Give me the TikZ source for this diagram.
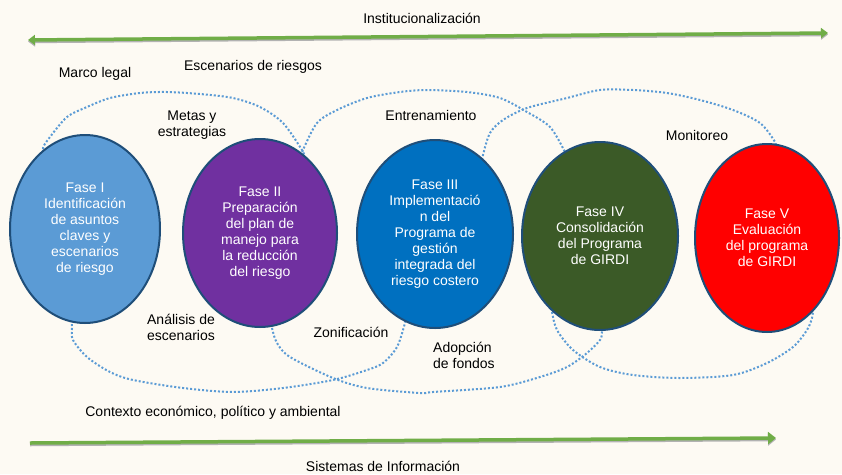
\documentclass[tikz,border=0pt]{standalone}
\usepackage{fontspec}
\setmainfont{Liberation Sans}
\usetikzlibrary{shapes.geometric,arrows.meta}
\definecolor{fondo}{HTML}{FDFAF3}
\definecolor{punteado}{HTML}{5B9BD5}
\definecolor{borde}{HTML}{1F4E79}
\definecolor{verde}{HTML}{70AD47}
\definecolor{faseuno}{HTML}{5B9BD5}
\definecolor{fasedos}{HTML}{7030A0}
\definecolor{fasetres}{HTML}{0070C0}
\definecolor{fasecuatro}{HTML}{3B5A27}
\definecolor{fasecinco}{HTML}{FF0000}
\def\letra{\fontsize{14}{16}\selectfont}
\tikzset{
	fase/.style={ellipse, draw=borde, line width=2pt, inner sep=0pt, text=white, align=center, font=\letra},
	etiqueta/.style={align=center, inner sep=0pt, font=\letra},
	punteo/.style={punteado, line width=2pt, dash pattern=on 2pt off 2pt},
	flecha/.style={verde, line width=3.5pt},
	sombra/.style={black!30, line width=3.5pt},
}

\begin{document}
\begin{tikzpicture}[x=1pt, y=-1pt]
			%%%%% START %%%%%
			
			\fill[fondo] (0, 0) rectangle (842, 474);
			\useasboundingbox (0, 0) rectangle (842, 474);
			
			% arcos punteados arriba
			\draw[punteo] plot[smooth] coordinates {(47, 156) (43, 148) (50, 137) (67, 117) (87, 107) (110, 98) (140, 93) (167, 92) (200, 94) (233, 98) (260, 107) (283, 123) (302, 150) (304, 156)};
			\draw[punteo] plot[smooth] coordinates {(302, 156) (303, 150) (317, 123) (337, 110) (367, 98) (400, 92) (427, 90) (467, 92) (500, 98) (527, 112) (550, 127) (565, 152) (567, 158)};
			\draw[punteo] plot[smooth] coordinates {(482, 164) (483, 155) (490, 133) (503, 120) (527, 108) (567, 98) (600, 90) (633, 90) (667, 93) (700, 100) (733, 110) (760, 123) (775, 142) (776, 150)};
			
			% arcos punteados abajo
			\draw[punteo] plot[smooth] coordinates {(72, 316) (72, 328) (73, 340) (87, 357) (110, 372) (133, 380) (183, 388) (233, 392) (283, 388) (333, 380) (367, 370) (383, 363) (397, 347) (405, 323) (406, 316)};
			\draw[punteo] plot[smooth] coordinates {(272, 320) (272, 328) (277, 343) (290, 357) (333, 378) (367, 388) (420, 393) (433, 392) (500, 387) (540, 377) (567, 367) (587, 353) (600, 340) (602, 332) (602, 325)};
			\draw[punteo] plot[smooth] coordinates {(551, 304) (552, 312) (557, 330) (573, 350) (600, 367) (633, 375) (680, 378) (733, 375) (767, 363) (793, 347) (807, 330) (812, 318) (813, 310)};
			
			% fases
			\node[fase, fill=faseuno, minimum width=150pt, minimum height=188pt] (f1) at (85, 229) {Fase I\\Identificación\\de asuntos\\claves y\\escenarios\\de riesgo};
			\node[fase, fill=fasedos, minimum width=154pt, minimum height=188pt] (f2) at (260, 233) {Fase II\\Preparación\\del plan de\\manejo para\\la reducción\\del riesgo};
			\node[fase, fill=fasetres, minimum width=156pt, minimum height=188pt] (f3) at (435, 234) {Fase III\\Implementació\\n del\\Programa de\\gestión\\integrada del\\riesgo costero};
			\node[fase, fill=fasecuatro, minimum width=156pt, minimum height=188pt] (f4) at (600, 236) {Fase IV\\Consolidación\\del Programa\\de GIRDI};
			\node[fase, fill=fasecinco, minimum width=144pt, minimum height=188pt] (f5) at (767, 238) {Fase V\\Evaluación\\del programa\\de GIRDI};
			
			% etiquetas
			\node[etiqueta] (instit) at (422, 18) {Institucionalización};
			\node[etiqueta] (marco) at (95, 74) {Marco legal};
			\node[etiqueta] (escenarios) at (253, 67) {Escenarios de riesgos};
			\node[etiqueta] (metas) at (192, 125) {Metas y\\estrategias};
			\node[etiqueta] (entrena) at (431, 115) {Entrenamiento};
			\node[etiqueta] (monitoreo) at (697, 135) {Monitoreo};
			\node[etiqueta] (analisis) at (181, 327) {Análisis de\\escenarios};
			\node[etiqueta] (zonif) at (351, 332) {Zonificación};
			\node[etiqueta, align=left, anchor=west] (adopcion) at (433, 355) {Adopción\\de fondos};
			\node[etiqueta] (contexto) at (213, 413) {Contexto económico, político y ambiental};
			\node[etiqueta] (sistemas) at (383, 466) {Sistemas de Información};
			
			% flechas verdes
			\coordinate (inst-l) at (28, 40);
			\coordinate (inst-r) at (828, 33);
			\coordinate (sis-l) at (30, 443);
			\coordinate (sis-r) at (776, 438);
			\draw[sombra, {Triangle[width=10pt, length=7pt]}-{Triangle[width=10pt, length=7pt]}] ([yshift=-1.5pt]inst-l) -- ([yshift=-1.5pt]inst-r);
			\draw[flecha, {Triangle[width=10pt, length=7pt]}-{Triangle[width=10pt, length=7pt]}] (inst-l) -- (inst-r);
			\draw[sombra, -{Triangle[width=12pt, length=8pt]}] ([yshift=-1.5pt]sis-l) -- ([yshift=-1.5pt]sis-r);
			\draw[flecha, -{Triangle[width=12pt, length=8pt]}] (sis-l) -- (sis-r);
			
			%%%%% END %%%%%
\end{tikzpicture}
\end{document}
